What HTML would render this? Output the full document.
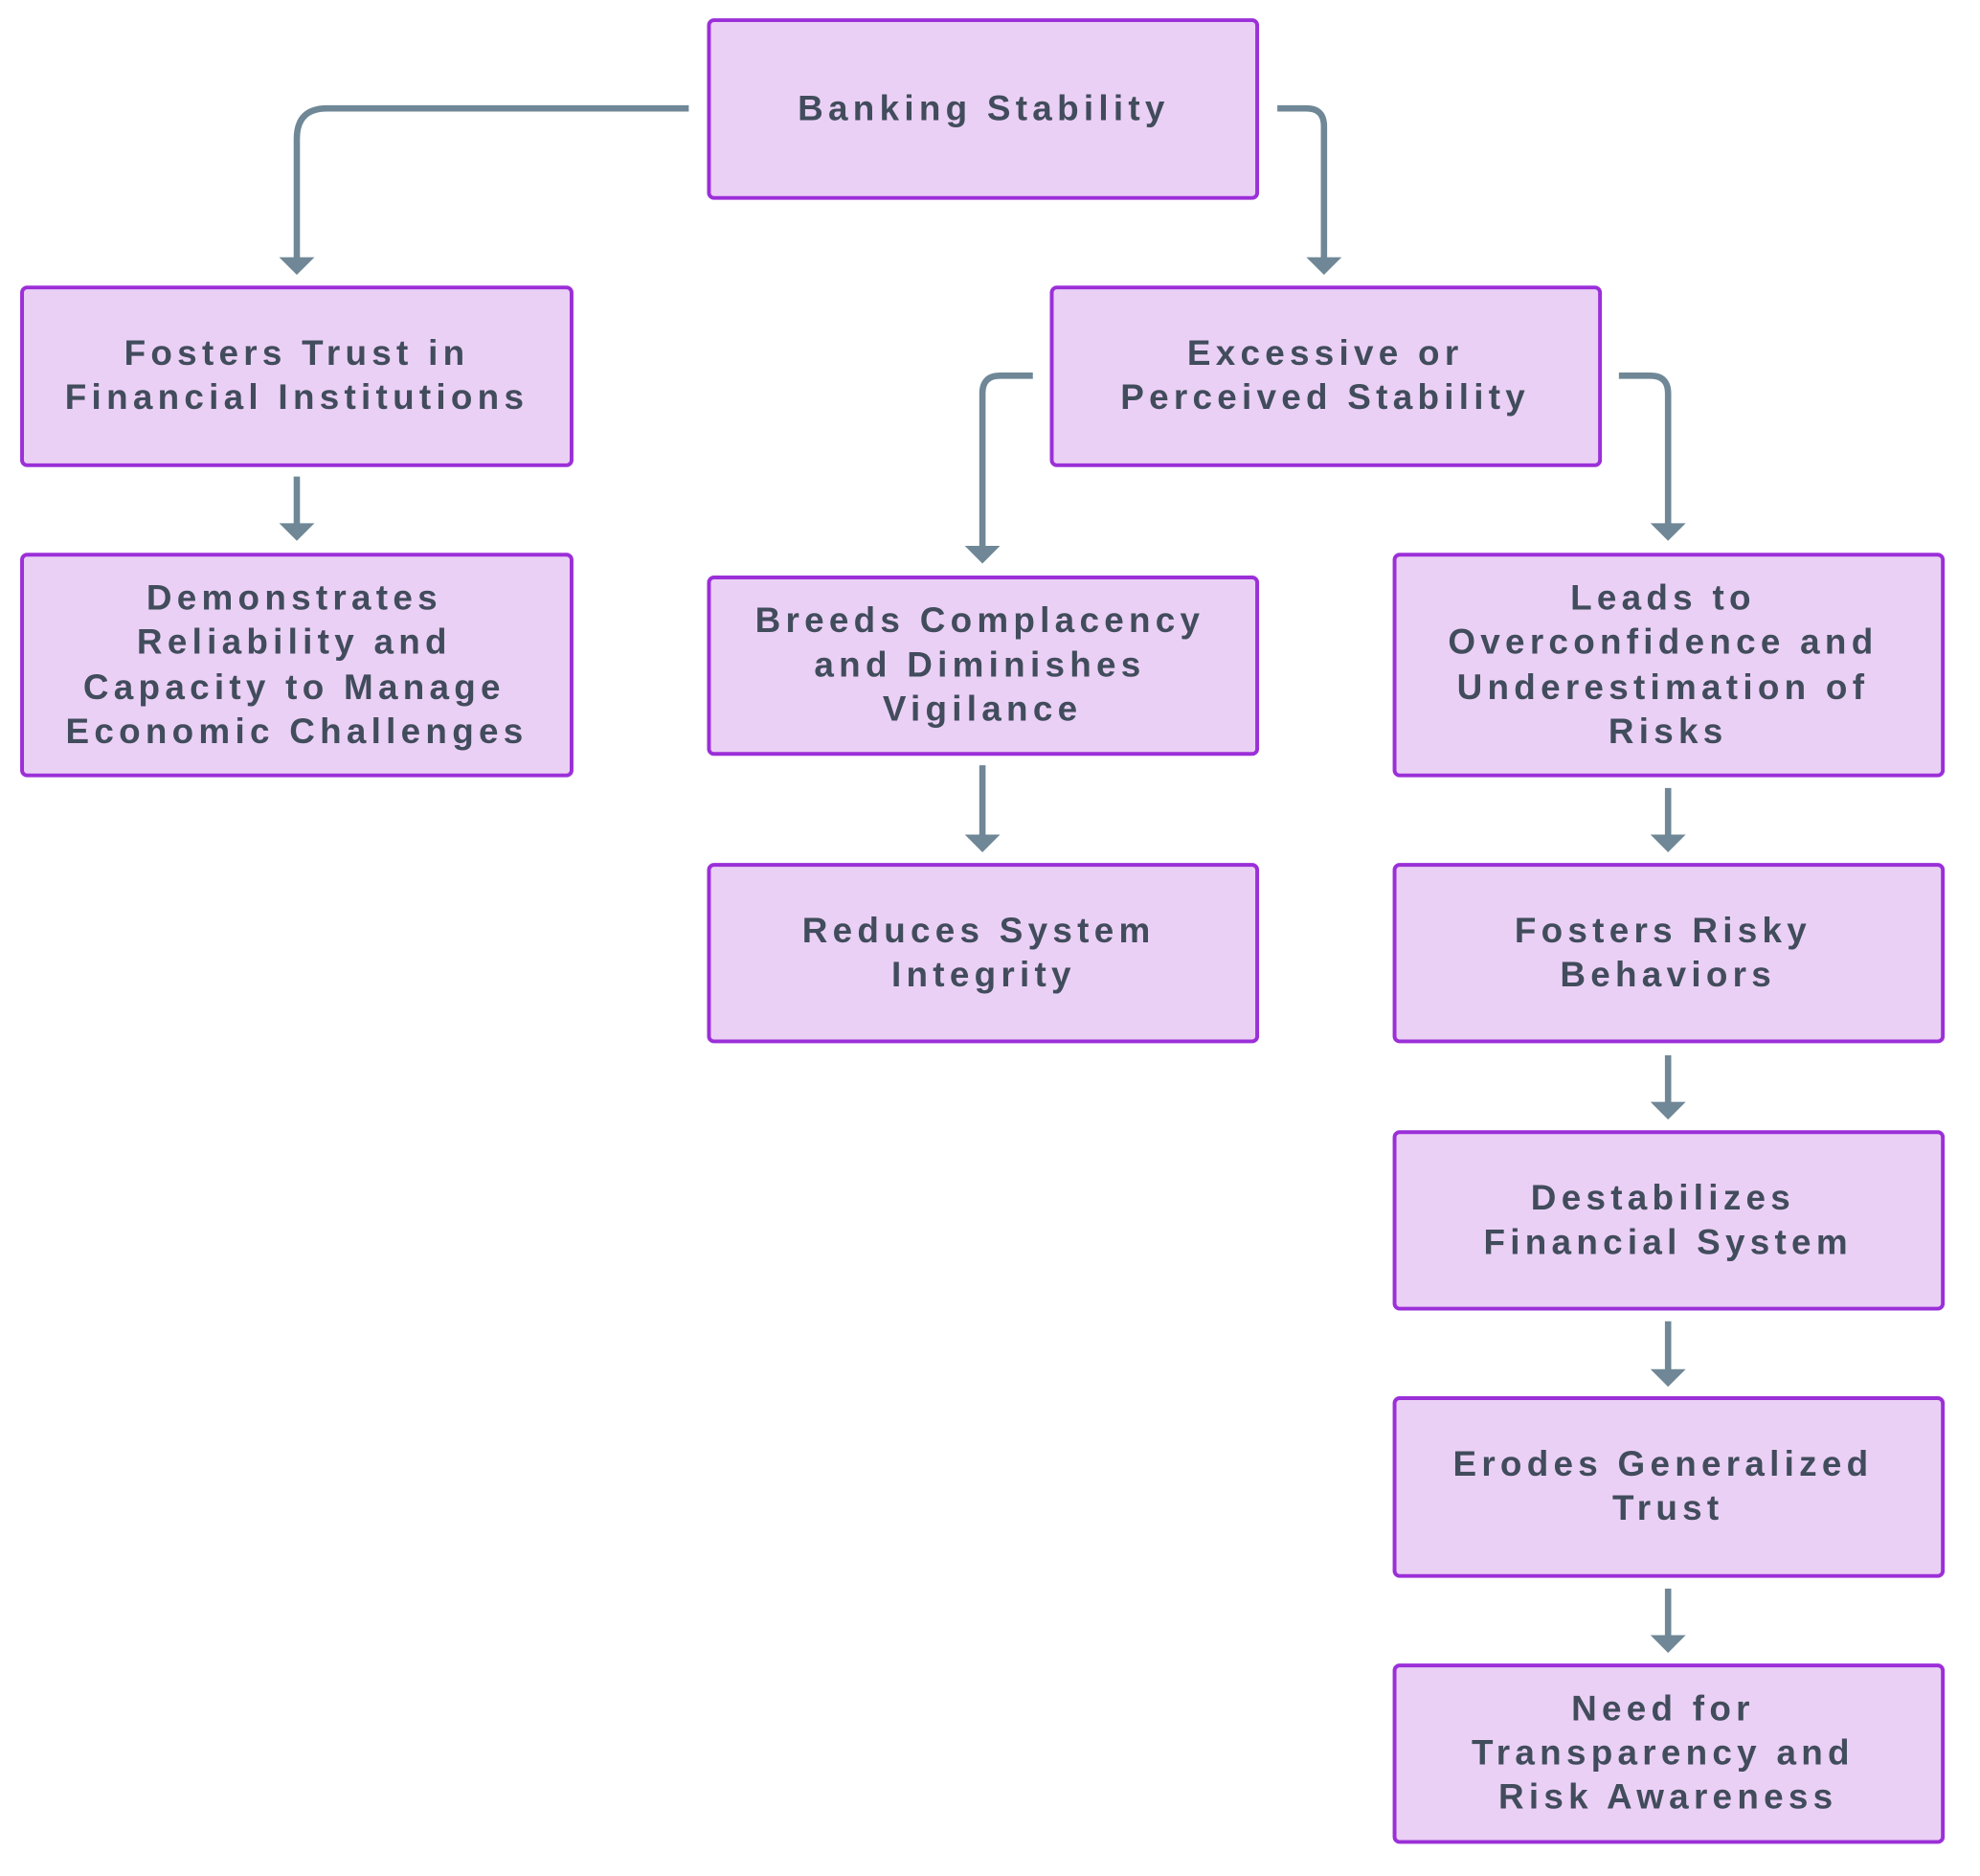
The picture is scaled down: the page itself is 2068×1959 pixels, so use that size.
<!DOCTYPE html>
<html><head><meta charset="utf-8"><style>
html,body{margin:0;padding:0;background:#fff;}
svg{display:block;}
text{font-family:"Liberation Sans",sans-serif;font-size:28px;font-weight:bold;fill:#414c5c;letter-spacing:4px;text-anchor:middle;dominant-baseline:central;}
.b{fill:#ebd0f5;stroke:#9b2fd8;stroke-width:3;}
.c{fill:none;stroke:#6f8796;stroke-width:5;}
.h{fill:#6f8796;}
</style></head><body>
<svg width="2068" height="1959" viewBox="0 0 1571 1488" preserveAspectRatio="none">
<g transform="translate(1.5,0)">
<rect class="b" x="561" y="16" width="435" height="141" rx="4"/>
<rect class="b" x="16" y="228" width="436" height="141" rx="4"/>
<rect class="b" x="833" y="228" width="435" height="141" rx="4"/>
<rect class="b" x="16" y="440" width="436" height="175" rx="4"/>
<rect class="b" x="561" y="458" width="435" height="140" rx="4"/>
<rect class="b" x="1105" y="440" width="435" height="175" rx="4"/>
<rect class="b" x="561" y="686" width="435" height="140" rx="4"/>
<rect class="b" x="1105" y="686" width="435" height="140" rx="4"/>
<rect class="b" x="1105" y="898" width="435" height="140" rx="4"/>
<rect class="b" x="1105" y="1109" width="435" height="141" rx="4"/>
<rect class="b" x="1105" y="1321" width="435" height="140" rx="4"/>

<path class="c" d="M545 86 H258 Q234 86 234 110 V205"/>
<path class="c" d="M1012 86 H1035 Q1049 86 1049 100 V205"/>
<path class="c" d="M234 378 V416"/>
<path class="c" d="M818 298 H792 Q778 298 778 312 V434"/>
<path class="c" d="M1283 298 H1308 Q1322 298 1322 312 V416"/>
<path class="c" d="M778 607 V663"/>
<path class="c" d="M1322 625 V663"/>
<path class="c" d="M1322 837 V875"/>
<path class="c" d="M1322 1048 V1087"/>
<path class="c" d="M1322 1260 V1298"/>
<g class="h">
<polygon points="220,204 248,204 234,218"/>
<polygon points="1035,204 1063,204 1049,218"/>
<polygon points="220,415 248,415 234,429"/>
<polygon points="764,433 792,433 778,447"/>
<polygon points="1308,415 1336,415 1322,429"/>
<polygon points="764,662 792,662 778,676"/>
<polygon points="1308,662 1336,662 1322,676"/>
<polygon points="1308,874 1336,874 1322,888"/>
<polygon points="1308,1086 1336,1086 1322,1100"/>
<polygon points="1308,1297 1336,1297 1322,1311"/>
</g>

<text x="779" y="86">Banking Stability</text>
<text x="234" y="280">Fosters Trust in</text>
<text x="234" y="315">Financial Institutions</text>
<text x="1050" y="280">Excessive or</text>
<text x="1050" y="315">Perceived Stability</text>
<text x="232" y="474">Demonstrates</text>
<text x="232" y="509">Reliability and</text>
<text x="232" y="545">Capacity to Manage</text>
<text x="234" y="580">Economic Challenges</text>
<text x="776" y="492">Breeds Complacency</text>
<text x="776" y="527">and Diminishes</text>
<text x="778" y="562">Vigilance</text>
<text x="1318" y="474">Leads to</text>
<text x="1318" y="509">Overconfidence and</text>
<text x="1318" y="545">Underestimation of</text>
<text x="1322" y="580">Risks</text>
<text x="775" y="738">Reduces System</text>
<text x="779" y="773">Integrity</text>
<text x="1318" y="738">Fosters Risky</text>
<text x="1322" y="773">Behaviors</text>
<text x="1318" y="950">Destabilizes</text>
<text x="1322" y="985">Financial System</text>
<text x="1318" y="1161">Erodes Generalized</text>
<text x="1322" y="1196">Trust</text>
<text x="1318" y="1355">Need for</text>
<text x="1318" y="1390">Transparency and</text>
<text x="1322" y="1425">Risk Awareness</text>
</g>
</svg>
</body></html>
